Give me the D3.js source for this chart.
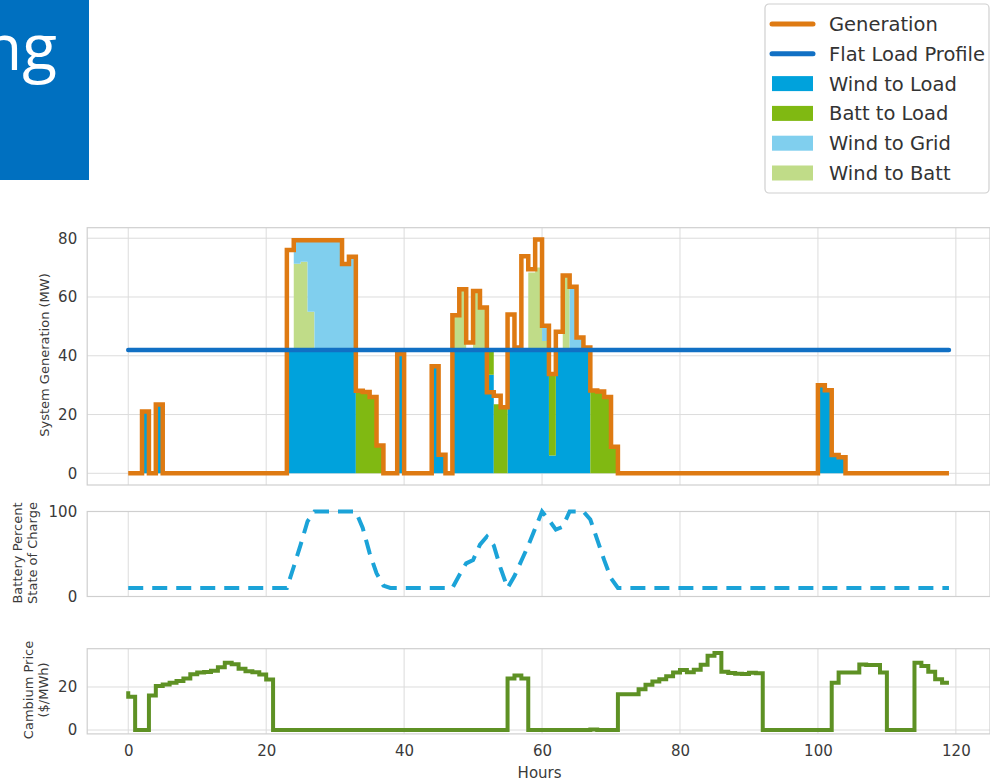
<!DOCTYPE html>
<html>
<head>
<meta charset="utf-8">
<script src="https://cdn.jsdelivr.net/npm/d3@7"></script>
<style>
  body { margin: 0; background: #fff; }
  svg { display: block; }
  text { font-family: "DejaVu Sans", sans-serif; }
</style>
</head>
<body>
<svg id="chart" width="990" height="782"></svg>
<script>
// ---- Hourly data (index = hour 0..119); step series hold the value for the hour ending at that index ----
const hours = d3.range(0, 120);

const generation = [
  0,0,0,21,0,23.4,0,0,0,0,
  0,0,0,0,0,0,0,0,0,0,
  0,0,0,0,76,79.3,79.3,79.3,79.3,79.3,
  79.3,79.3,71.2,73.7,28.1,27.7,26,9.5,0,0,
  40.6,0,0,0,0,36.4,6.3,0,53.8,62.6,
  44.5,62,56.4,27.6,26.4,22.5,54,42.8,73.9,69.4,
  79.6,50.2,33.8,48.2,67.3,63.5,46.2,42.8,28.2,27.8,
  26,9,0,0,0,0,0,0,0,0,
  0,0,0,0,0,0,0,0,0,0,
  0,0,0,0,0,0,0,0,0,0,
  0,30,28.3,6.2,5.5,0,0,0,0,0,
  0,0,0,0,0,0,0,0,0,0
];

const flatLoad = 42;

const windToLoad = [
  0,0,0,21,0,23.4,0,0,0,0,
  0,0,0,0,0,0,0,0,0,0,
  0,0,0,0,42,42,42,42,42,42,
  42,42,42,42,0,0,0,0,0,0,
  40.6,0,0,0,0,36.4,6.3,0,42,42,
  42,42,42,33.5,0,0,42,42,42,42,
  42,42,6.1,42,42,42,42,42,0,0,
  0,0,0,0,0,0,0,0,0,0,
  0,0,0,0,0,0,0,0,0,0,
  0,0,0,0,0,0,0,0,0,0,
  0,30,28.3,6.2,5.5,0,0,0,0,0,
  0,0,0,0,0,0,0,0,0,0
];

const battToLoad = [
  0,0,0,0,0,0,0,0,0,0,
  0,0,0,0,0,0,0,0,0,0,
  0,0,0,0,0,0,0,0,0,0,
  0,0,0,0,28.1,27.7,26,9.5,0,0,
  0,0,0,0,0,0,0,0,0,0,
  0,0,0,7.9,23.5,22.5,0,0,0,0,
  0,0,27.7,0,0,0,0,0,28.2,27.8,
  26,9,0,0,0,0,0,0,0,0,
  0,0,0,0,0,0,0,0,0,0,
  0,0,0,0,0,0,0,0,0,0,
  0,0,0,0,0,0,0,0,0,0,
  0,0,0,0,0,0,0,0,0,0
];

const windToBatt = [
  0,0,0,0,0,0,0,0,0,0,
  0,0,0,0,0,0,0,0,0,0,
  0,0,0,0,0,29.3,30,13,0,0,
  0,0,0,0,0,0,0,0,0,0,
  0,0,0,0,0,0,0,0,11.8,20.6,
  0,20,14.4,0,0,0,0,0,0,26.3,
  28,3,0,0,25.3,0,0,0,0,0,
  0,0,0,0,0,0,0,0,0,0,
  0,0,0,0,0,0,0,0,0,0,
  0,0,0,0,0,0,0,0,0,0,
  0,0,0,0,0,0,0,0,0,0,
  0,0,0,0,0,0,0,0,0,0
];

const windToGrid = [
  0,0,0,0,0,0,0,0,0,0,
  0,0,0,0,0,0,0,0,0,0,
  0,0,0,0,0,8,7.3,24.3,37.3,37.3,
  37.3,37.3,29.2,31.7,0,0,0,0,0,0,
  0,0,0,0,0,0,0,0,0,0,
  0,0,0,0,0,0,0,0,0,0,
  0,5,0,0,0,21.5,4.2,0,0,0,
  0,0,0,0,0,0,0,0,0,0,
  0,0,0,0,0,0,0,0,0,0,
  0,0,0,0,0,0,0,0,0,0,
  0,0,0,0,0,0,0,0,0,0,
  0,0,0,0,0,0,0,0,0,0
];

// Battery state of charge, percent (sampled each hour)
const stateOfCharge = [
  10,10,10,10,10,10,10,10,10,10,
  10,10,10,10,10,10,10,10,10,10,
  10,10,10,10,35,61,88.5,100,100,100,
  100,100,100,100,80.6,51,27.4,12.7,10,10,
  10,10,10,10,10,10,10,10,25,39,
  43,61,70.5,60,33,10,24,42,60,80,
  100,90,78.7,82,100,100,100,90.5,67,43,
  21.5,10,10,10,10,10,10,10,10,10,
  10,10,10,10,10,10,10,10,10,10,
  10,10,10,10,10,10,10,10,10,10,
  10,10,10,10,10,10,10,10,10,10,
  10,10,10,10,10,10,10,10,10,10
];

// Cambium price, $/MWh
const cambiumPrice = [
  18,15.5,0,0,16,20.5,21.2,22,22.8,24,
  25.9,26.7,27,27.6,29.2,31.3,30.6,28.5,27.3,26.8,
  25.8,23.5,0,0,0,0,0,0,0,0,
  0,0,0,0,0,0,0,0,0,0,
  0,0,0,0,0,0,0,0,0,0,
  0,0,0,0,0,0,24,25.4,24,0,
  0,0,0,0,0,0,0,0,0.3,0,
  0,0,16.6,16.6,16.6,19,21,22.5,23.6,25,
  26.7,27.9,26.8,28,30.3,34.5,35.8,27.1,26.5,26.1,
  26,26.6,26.4,0,0,0,0,0,0,0,
  0,0,0,22,26.7,26.7,26.7,30.4,30.2,30.2,
  26.7,0,0,0,0,31.3,29.8,27.1,23.6,22
];

const xTicks = [0, 20, 40, 60, 80, 100, 120];
const genTicks = [0, 20, 40, 60, 80];
const socTicks = [0, 100];
const priceTicks = [0, 20];

const legendItems = [
  { label: "Generation",        kind: "line", color: "#DE7A12" },
  { label: "Flat Load Profile", kind: "line", color: "#1170C4" },
  { label: "Wind to Load",      kind: "rect", color: "#00A2DC" },
  { label: "Batt to Load",      kind: "rect", color: "#80B912" },
  { label: "Wind to Grid",      kind: "rect", color: "#80CFEE" },
  { label: "Wind to Batt",      kind: "rect", color: "#C0DC88" }
];

// ---- Layout ----
const svg = d3.select("#chart");
const left = 87.2, right = 990;
const x = d3.scaleLinear().domain([-5.95, 124.95]).range([left, right]);

const panels = {
  gen:   { y: d3.scaleLinear().domain([-3.98, 83.58]).range([485, 227.7]) },
  soc:   { y: d3.scaleLinear().domain([0, 100]).range([596.5, 511.5]) },
  price: { y: d3.scaleLinear().domain([-1.8, 37.8]).range([733.9, 648.7]) }
};

const gridColor = "#dcdcdc";
const tickColor = "#3a3a3a";

// Slide title fragment
svg.append("rect").attr("x", 0).attr("y", 0).attr("width", 89).attr("height", 180).attr("fill", "#0070C0");
svg.append("text").attr("x", 57).attr("y", 70).attr("text-anchor", "end")
  .style("font-family", "'Open Sans', sans-serif").style("font-size", "64px")
  .attr("fill", "#fff").text("ng");

function drawFrame(p, yTicks) {
  const [y0, y1] = p.y.range();
  const g = svg.append("g");
  g.selectAll("line.vx").data(xTicks).join("line")
    .attr("x1", d => x(d)).attr("x2", d => x(d)).attr("y1", y1).attr("y2", y0)
    .attr("stroke", gridColor).attr("stroke-width", 1);
  g.selectAll("line.hy").data(yTicks).join("line")
    .attr("x1", left).attr("x2", right).attr("y1", d => p.y(d)).attr("y2", d => p.y(d))
    .attr("stroke", gridColor).attr("stroke-width", 1);
  g.append("rect").attr("x", left).attr("y", y1).attr("width", right - left).attr("height", y0 - y1)
    .attr("fill", "none").attr("stroke", "#cfcfcf").attr("stroke-width", 1.2);
  const ax = svg.append("g").attr("transform", `translate(${left},0)`)
    .call(d3.axisLeft(p.y).tickValues(yTicks).tickSize(0).tickPadding(10).tickFormat(d3.format("d")));
  ax.select(".domain").remove();
  ax.selectAll("text").style("font-size", "15px").style("font-family", "'DejaVu Sans', sans-serif").attr("fill", tickColor);
}

drawFrame(panels.gen, genTicks);
drawFrame(panels.soc, socTicks);
drawFrame(panels.price, priceTicks);

// ---- Top panel: stacked dispatch areas, generation and load ----
const yG = panels.gen.y;
const rows = hours.map((h, i) => ({
  hour: h,
  windToLoad: windToLoad[i],
  battToLoad: battToLoad[i],
  windToBatt: windToBatt[i],
  windToGrid: windToGrid[i]
}));
const keys = ["windToLoad", "battToLoad", "windToBatt", "windToGrid"];
const fillColor = {
  windToLoad: "#00A2DC", battToLoad: "#80B912", windToBatt: "#C0DC88", windToGrid: "#80CFEE"
};
const stacked = d3.stack().keys(keys)(rows);
const area = d3.area()
  .x(d => x(d.data.hour)).y0(d => yG(d[0])).y1(d => yG(d[1]))
  .curve(d3.curveStepBefore);
svg.append("g").selectAll("path").data(stacked).join("path")
  .attr("d", area).attr("fill", d => fillColor[d.key]);

const genLine = d3.line().x((d, i) => x(hours[i])).y(d => yG(d)).curve(d3.curveStepBefore);
svg.append("path").datum(generation).attr("d", genLine)
  .attr("fill", "none").attr("stroke", "#DE7A12").attr("stroke-width", 4.5)
  .attr("stroke-linejoin", "miter");

svg.append("path").datum([hours[0], hours[hours.length - 1]])
  .attr("d", d3.line().x(d => x(d)).y(() => yG(flatLoad)))
  .attr("fill", "none").attr("stroke", "#1170C4").attr("stroke-width", 4.5).attr("stroke-linecap", "round");

// ---- Middle panel: battery state of charge ----
const yS = panels.soc.y;
svg.append("path").datum(stateOfCharge)
  .attr("d", d3.line().x((d, i) => x(hours[i])).y(d => yS(d)))
  .attr("fill", "none").attr("stroke", "#1BA3D8").attr("stroke-width", 4)
  .attr("stroke-dasharray", "15,9");

// ---- Bottom panel: Cambium price ----
const yP = panels.price.y;
svg.append("path").datum(cambiumPrice)
  .attr("d", d3.line().x((d, i) => x(hours[i])).y(d => yP(d)).curve(d3.curveStepBefore))
  .attr("fill", "none").attr("stroke", "#5E9124").attr("stroke-width", 4)
  .attr("stroke-linejoin", "miter");

// x axis under the bottom panel
const xa = svg.append("g").attr("transform", `translate(0,${panels.price.y.range()[0]})`)
  .call(d3.axisBottom(x).tickValues(xTicks).tickSize(0).tickPadding(11).tickFormat(d3.format("d")));
xa.select(".domain").remove();
xa.selectAll("text").style("font-size", "15px").style("font-family", "'DejaVu Sans', sans-serif").attr("fill", tickColor);

svg.append("text").attr("x", (left + right) / 2 + 1).attr("y", 778)
  .attr("text-anchor", "middle").style("font-size", "15px").attr("fill", tickColor).text("Hours");

// y axis titles
function yTitle(lines, cx, cy) {
  const t = svg.append("text").attr("transform", `translate(${cx},${cy}) rotate(-90)`)
    .attr("text-anchor", "middle").style("font-size", "13px").attr("fill", tickColor);
  lines.forEach((s, i) => t.append("tspan").attr("x", 0).attr("dy", i === 0 ? 0 : "1.12em").text(s));
}
yTitle(["System Generation (MW)"], 49, 355);
yTitle(["Battery Percent", "State of Charge"], 22, 553);
yTitle(["Cambium Price", "($/MWh)"], 33, 690);

// ---- Legend ----
const lg = svg.append("g");
lg.append("rect").attr("x", 765).attr("y", 4).attr("width", 224).attr("height", 189).attr("rx", 4)
  .attr("fill", "#fff").attr("stroke", "#d0d0d0").attr("stroke-width", 1.2);
const item = lg.selectAll("g.item").data(legendItems).join("g")
  .attr("transform", (d, i) => `translate(0,${24 + i * 29.8})`);
item.filter(d => d.kind === "line").append("line")
  .attr("x1", 772).attr("x2", 813).attr("y1", 0).attr("y2", 0)
  .attr("stroke", d => d.color).attr("stroke-width", 5).attr("stroke-linecap", "round");
item.filter(d => d.kind === "rect").append("rect")
  .attr("x", 772).attr("y", -7.5).attr("width", 41).attr("height", 15).attr("fill", d => d.color);
item.append("text").attr("x", 829).attr("y", 0).attr("dy", "0.36em")
  .style("font-size", "19.5px").attr("fill", "#333").text(d => d.label);
</script>
</body>
</html>
